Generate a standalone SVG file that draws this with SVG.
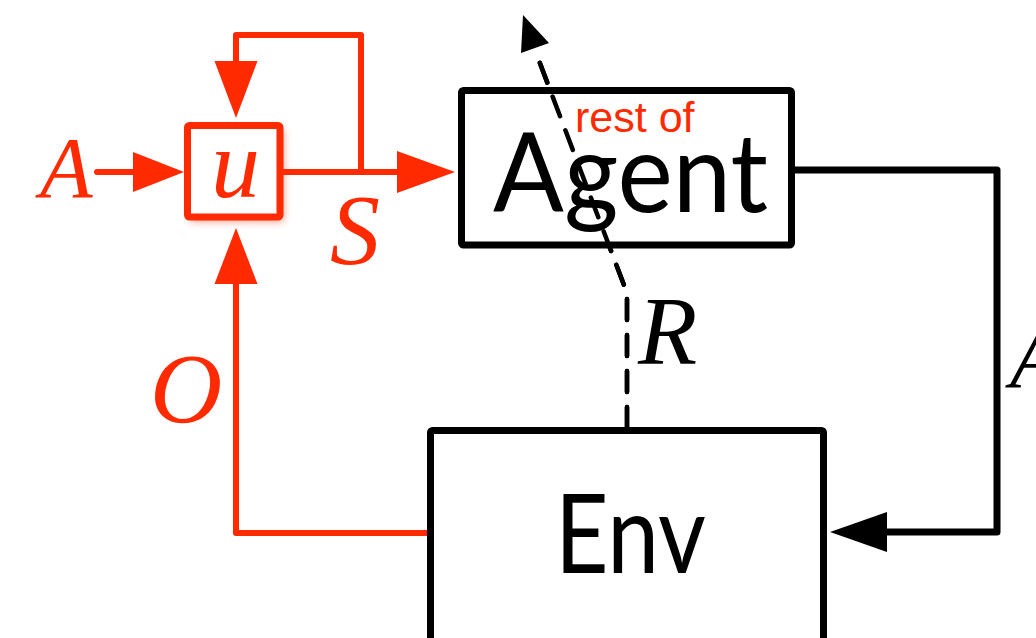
<svg xmlns="http://www.w3.org/2000/svg" width="1036" height="638" viewBox="0 0 1036 638">
  <style>
    .box { fill: #fff; stroke: #000; stroke-width: 7; stroke-linejoin: round; }
    .ubox { fill: #fff; stroke: #ff2a00; stroke-width: 7; stroke-linejoin: round; }
    .wire { fill: none; stroke: #000; stroke-width: 7; stroke-linejoin: round; stroke-linecap: round; }
    .rwire { fill: none; stroke: #ff2a00; stroke-width: 6; stroke-linejoin: round; stroke-linecap: round; }
    .dash { fill: none; stroke: #000; stroke-width: 4.5; stroke-dasharray: 21 15; stroke-linecap: round; stroke-linejoin: round; }
    .head { fill: #000; }
    .rhead { fill: #ff2a00; }
    .big { font-family: Lato, "Open Sans", sans-serif; font-size: 110px; fill: #000; }
    .sym { font-family: "Liberation Serif", "Times New Roman", serif; font-style: italic; }
    .red { fill: #ff2a00; }
    .blk { fill: #000; }
    .small { font-family: "Liberation Sans", Arial, sans-serif; font-size: 43px; fill: #ff2a00; }
  </style>
  <defs>
    <filter id="glow" x="-30%" y="-30%" width="160%" height="160%">
      <feGaussianBlur stdDeviation="4"/>
    </filter>
  </defs>

  <!-- connectors -->
  <g id="connectors">
    <!-- A into u -->
    <line class="rwire" x1="97" y1="172" x2="140" y2="172"/>
    <polygon class="rhead" points="184,172 133,152 133,192"/>
    <!-- u out to S / rest of agent -->
    <line class="rwire" x1="283" y1="172" x2="402" y2="172"/>
    <polygon class="rhead" points="455,172 397,151 397,193"/>
    <!-- state feedback loop back into u -->
    <polyline class="rwire" points="361,172 361,35 236,35 236,66"/>
    <polygon class="rhead" points="236,118 214.5,61 257.5,61"/>
    <!-- observation from Env into u -->
    <polyline class="rwire" points="427,533 236,533 236,278"/>
    <polygon class="rhead" points="236,228 214.5,284 257.5,284"/>
    <!-- action from Agent to Env -->
    <polyline class="wire" points="795,170 997,170 997,532 880,532"/>
    <polygon class="head" points="830,532 887,512 887,552"/>
    <!-- reward, dashed -->
    <polyline class="dash" points="627,428 627,293 538,58"/>
    <polygon class="head" points="523,15 521,53 549,43"/>
  </g>

  <!-- u node -->
  <g id="node-u">
    <rect x="191" y="130" width="92" height="91" fill="#ff2a00" opacity="0.55" filter="url(#glow)"/>
    <rect class="ubox" x="187.5" y="125.5" width="92.5" height="91.5" rx="2"/>
    <text class="sym red" x="211" y="197" font-size="98">u</text>
  </g>

  <!-- Agent node -->
  <g id="node-agent">
    <rect class="box" x="461.5" y="90.5" width="330" height="154.5" rx="2"/>
    <text class="small" x="575" y="132">rest of</text>
    <text class="big" x="493" y="212" textLength="275" lengthAdjust="spacingAndGlyphs">Agent</text>
  </g>

  <!-- Env node -->
  <g id="node-env">
    <rect class="box" x="430.5" y="430.5" width="393" height="240" rx="2"/>
    <text class="big" x="555" y="573" textLength="151" lengthAdjust="spacingAndGlyphs">Env</text>
  </g>

  <!-- reward dash drawn over the Agent label -->
  <polyline class="dash" points="627,428 627,293 538,58"/>

  <!-- signal labels -->
  <g id="labels">
    <text class="sym red" x="40" y="197" font-size="86">A</text>
    <text class="sym red" x="330" y="263" font-size="100">S</text>
    <text class="sym red" x="150" y="422" font-size="100">O</text>
    <text class="sym blk" x="638" y="364" font-size="97">R</text>
    <text class="sym blk" x="1010" y="387" font-size="86">A</text>
  </g>
</svg>
